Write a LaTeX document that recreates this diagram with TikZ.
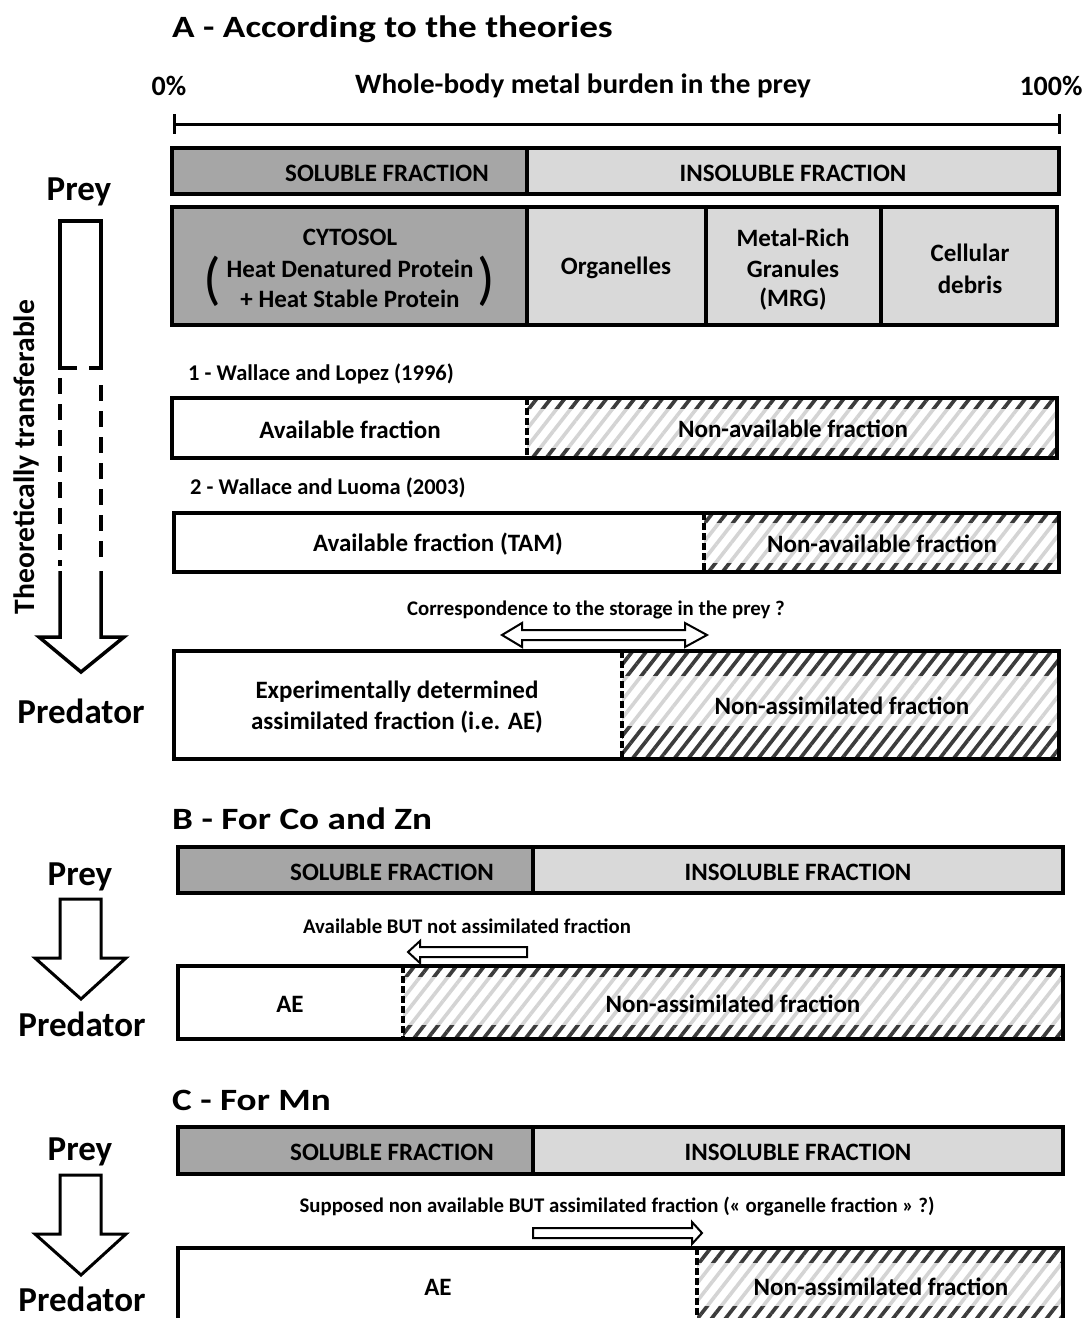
\documentclass[tikz,border=0pt]{standalone}
\usepackage{fontspec}
\setmainfont{Carlito}
\usetikzlibrary{patterns.meta}
\definecolor{dg}{HTML}{A6A6A6}
\definecolor{lg}{HTML}{D9D9D9}
\definecolor{hl}{HTML}{D4D4D4}
\definecolor{hd}{HTML}{3C3C3C}
\newcommand\fs[1]{\fontsize{#1}{#1}\selectfont\bfseries}
\begin{document}
\begin{tikzpicture}[x=1pt,y=-1pt,
  every node/.style={inner sep=0pt},
  box/.style={draw=black,line width=3.5pt},
  divd/.style={draw=black,line width=3.5pt,dash pattern=on 7pt off 3pt},
  blk/.style={draw=black,line width=3pt,fill=white,line join=miter},
  hlight/.style={pattern={Lines[angle=52,distance=11pt,line width=3.6pt]},pattern color=hl},
  hdark/.style={pattern={Lines[angle=52,distance=11pt,line width=3.6pt]},pattern color=hd},
  ttl/.style={font=\fs{31},anchor=west,xscale=1.2,yshift=-2pt},
  big/.style={font=\fs{35},yshift=-2pt},
  txt/.style={font=\fs{25},yshift=-1pt},
  lab/.style={font=\fs{22.5},yshift=-1.5pt},
  sml/.style={font=\fs{20.8},yshift=-1.5pt}]
\clip (0,0) rectangle (1088,1318);
\fill[white] (0,0) rectangle (1088,1318);

% ---------------- A ----------------
\node[ttl] (tA) at (172,27) {A - According to the theories};
\node[font=\fs{28},yshift=-2pt] (p0) at (169,84) {0\%};
\node[font=\fs{28},xscale=1.04,yshift=-2pt] (wb) at (583,84) {Whole-body metal burden in the prey};
\node[font=\fs{28},yshift=-2pt] (p100) at (1051,84) {100\%};
\coordinate (s0) at (174,124);
\coordinate (s1) at (1059,124);
\draw[line width=3pt] (s0) -- (s1);
\draw[line width=3pt] (174,114) -- (174,134) (1059,114) -- (1059,134);

% fraction bar
\filldraw[box,fill=dg] (172,148) rectangle (527,194);
\filldraw[box,fill=lg] (527,148) rectangle (1059,194);
\node[txt] (solA) at (387,172) {SOLUBLE FRACTION};
\node[txt] (insA) at (793,172) {INSOLUBLE FRACTION};

% compartments
\filldraw[box,fill=dg] (172,207) rectangle (527,325);
\filldraw[box,fill=lg] (527,207) rectangle (706,325);
\filldraw[box,fill=lg] (706,207) rectangle (881,325);
\filldraw[box,fill=lg] (881,207) rectangle (1057,325);
\node[txt] (cyt) at (350,236) {CYTOSOL};
\node[txt] (hdp) at (350,268) {Heat Denatured Protein};
\node[txt] (hsp) at (350,298) {+ Heat Stable Protein};
\node[font=\fontsize{58}{58}\selectfont] (lp) at (212,281) {(};
\node[font=\fontsize{58}{58}\selectfont] (rp) at (486,281) {)};
\node[txt] (org) at (616,267) {Organelles};
\node[txt] (mr1) at (793,237) {Metal-Rich};
\node[txt] (mr2) at (793,268) {Granules};
\node[txt] (mr3) at (793,298) {(MRG)};
\node[txt] (cd1) at (970,252) {Cellular};
\node[txt] (cd2) at (970,284) {debris};

% 1 - Wallace and Lopez
\node[lab,anchor=west] (w1) at (188,372) {1 - Wallace and Lopez (1996)};
\fill[hlight] (527,398) rectangle (1057,458);
\fill[hdark] (527,398) rectangle (1057,408);
\fill[hdark] (527,448) rectangle (1057,458);
\draw[box] (172,398) rectangle (1057,458);
\draw[divd] (527,398) -- (527,458);
\node[txt] (af1) at (350,429) {Available fraction};
\node[txt] (na1) at (793,428) {Non-available fraction};

% 2 - Wallace and Luoma
\node[lab,anchor=west] (w2) at (190,486) {2 - Wallace and Luoma (2003)};
\fill[hlight] (704,513) rectangle (1059,572);
\fill[hdark] (704,513) rectangle (1059,522);
\fill[hdark] (704,563) rectangle (1059,572);
\draw[box] (174,513) rectangle (1059,572);
\draw[divd] (704,513) -- (704,572);
\node[txt] (af2) at (438,543) {Available fraction (TAM)};
\node[txt] (na2) at (882,543) {Non-available fraction};

% correspondence
\node[sml] (corr) at (596,608) {Correspondence to the storage in the prey ?};
\draw[line width=2pt,fill=white,line join=miter] (502,635) -- (522,623) -- (522,630) -- (685,630) -- (685,623) -- (707,635) -- (685,647) -- (685,640) -- (522,640) -- (522,647) -- cycle;

% AE box
\fill[hlight] (622,651) rectangle (1059,759);
\fill[hdark] (622,651) rectangle (1059,675);
\fill[hdark] (622,726) rectangle (1059,759);
\draw[box] (174,651) rectangle (1059,759);
\draw[divd] (622,651) -- (622,759);
\node[txt] (ed1) at (397,691) {Experimentally determined};
\node[txt] (ed2) at (397,721) {assimilated fraction (i.e. AE)};
\node[txt] (naA) at (842,705) {Non-assimilated fraction};

% left big arrow
\node[big] (preyA) at (79,190) {Prey};
\node[big] (predA) at (81,709) {Predator};
\node[font=\fs{29.6},rotate=90] (theo) at (26,457) {Theoretically transferable};
\draw[line width=3.5pt,line join=miter] (77,368) -- (60,368) -- (60,221) -- (101,221) -- (101,368) -- (89,368);
\draw[line width=3.5pt,dash pattern=on 16pt off 10pt] (60,378) -- (60,566);
\draw[line width=3.5pt,dash pattern=on 16pt off 10pt] (101,385) -- (101,566);
\draw[line width=3.5pt,line join=miter] (60,571) -- (60,637) -- (39,637) -- (81,672) -- (124,637) -- (101,637) -- (101,571);

% ---------------- B ----------------
\node[ttl] (tB) at (172,817) {B - For Co and Zn};
\filldraw[box,fill=dg] (178,847) rectangle (533,893);
\filldraw[box,fill=lg] (533,847) rectangle (1063,893);
\node[txt] (solB) at (392,871) {SOLUBLE FRACTION};
\node[txt] (insB) at (798,871) {INSOLUBLE FRACTION};
\node[big] (preyB) at (80,875) {Prey};
\node[big] (predB) at (82,1022) {Predator};
\draw[blk] (60,899) -- (101,899) -- (101,958) -- (126,958) -- (81,999) -- (35,958) -- (60,958) -- cycle;
\node[sml] (abna) at (467,925) {Available BUT not assimilated fraction};
\draw[line width=2pt,fill=white,line join=miter] (408,952) -- (420,941) -- (420,947) -- (527,947) -- (527,957) -- (420,957) -- (420,963) -- cycle;
\fill[hlight] (403,966) rectangle (1063,1039);
\fill[hdark] (403,966) rectangle (1063,976);
\fill[hdark] (403,1025) rectangle (1063,1039);
\draw[box] (178,966) rectangle (1063,1039);
\draw[divd] (403,966) -- (403,1039);
\node[txt] (aeB) at (290,1003) {AE};
\node[txt] (naB) at (733,1003) {Non-assimilated fraction};

% ---------------- C ----------------
\node[ttl] (tC) at (172,1098) {C - For Mn};
\filldraw[box,fill=dg] (178,1127) rectangle (533,1174);
\filldraw[box,fill=lg] (533,1127) rectangle (1063,1174);
\node[txt] (solC) at (392,1151) {SOLUBLE FRACTION};
\node[txt] (insC) at (798,1151) {INSOLUBLE FRACTION};
\node[big] (preyC) at (80,1150) {Prey};
\node[big] (predC) at (82,1297) {Predator};
\draw[blk] (60,1175) -- (101,1175) -- (101,1234) -- (126,1234) -- (81,1275) -- (35,1234) -- (60,1234) -- cycle;
\node[sml] (supp) at (617,1205) {Supposed non available BUT assimilated fraction (« organelle fraction » ?)};
\draw[line width=2pt,fill=white,line join=miter] (533,1228) -- (692,1228) -- (692,1222) -- (702,1233) -- (692,1244) -- (692,1238) -- (533,1238) -- cycle;
\fill[hlight] (697,1248) rectangle (1063,1330);
\fill[hdark] (697,1248) rectangle (1063,1262);
\fill[hdark] (697,1306) rectangle (1063,1330);
\draw[box] (178,1248) rectangle (1063,1330);
\draw[divd] (697,1248) -- (697,1330);
\node[txt] (aeC) at (438,1286) {AE};
\node[txt] (naC) at (881,1286) {Non-assimilated fraction};
\end{tikzpicture}
\end{document}
